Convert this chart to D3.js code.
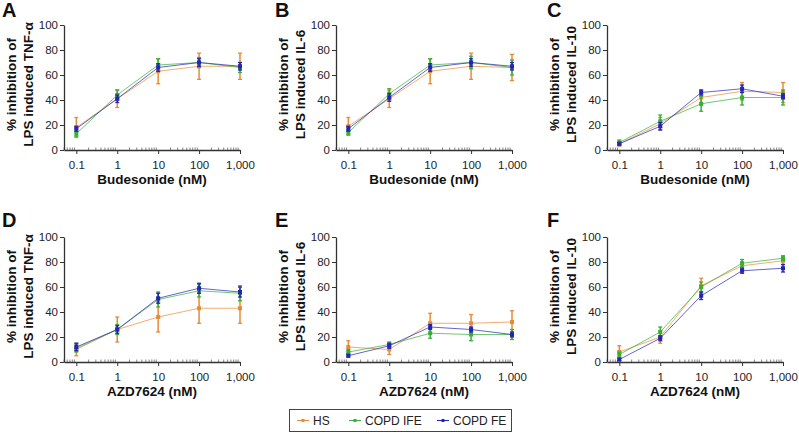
<!DOCTYPE html>
<html>
<head>
<meta charset="utf-8">
<script src="https://cdn.jsdelivr.net/npm/d3@7"></script>
<style>
  body { margin: 0; background: #fff; }
  svg { font-family: "Liberation Sans", Arial, sans-serif; }
  .axis path, .axis line { stroke: #333; }
  .axis text { font-size: 11.5px; fill: #222; font-family: "Liberation Sans", Arial, sans-serif; }
</style>
</head>
<body>
<script>
const width = 799;
const height = 433;

// doses and tick labels
const doses = [0.1, 1, 10, 100, 1000];
const doseLabels = ["0.1", "1", "10", "100", "1,000"];
const yTicks = [0, 20, 40, 60, 80, 100];

const seriesNames = ["HS", "COPD IFE", "COPD FE"];
const seriesColors = ["#e88a35", "#34b035", "#2424b8"];

// A: budesonide, TNF-a
const aHS = [18, 41, 63, 67, 67];
const aHSerr = [8, 7, 10, 10.5, 10.5];
const aIFE = [13, 44, 68, 70, 66];
const aIFEerr = [2, 4, 5, 4, 4];
const aFE = [17, 41, 66, 70, 67];
const aFEerr = [2, 3, 3, 3, 3];

// B: budesonide, IL-6
const bHS = [19, 41, 63, 67, 66];
const bHSerr = [7, 7, 10, 10.5, 10.5];
const bIFE = [14, 45, 68, 70, 66];
const bIFEerr = [2, 4, 5, 5, 6];
const bFE = [17, 42, 66, 70, 67];
const bFEerr = [2, 3, 3, 3, 3];

// C: budesonide, IL-10
const cHS = [5, 21, 42, 47, 46];
const cHSerr = [2, 5, 6, 7, 8];
const cIFE = [6, 23, 37, 42, 42];
const cIFEerr = [2, 5, 6, 6, 6];
const cFE = [5, 19, 46, 49, 43];
const cFEerr = [1, 3, 2, 3, 2];

// D: AZD7624, TNF-a
const dHS = [10, 26, 36, 43, 43];
const dHSerr = [5, 10, 12, 12, 12];
const dIFE = [11, 26, 50, 57, 55];
const dIFEerr = [3, 4, 6, 5, 6];
const dFE = [12, 26, 51, 59, 56];
const dFEerr = [3, 3, 4, 4, 4];

// E: AZD7624, IL-6
const eHS = [12, 10, 31, 31, 32];
const eHSerr = [5, 4, 8, 7, 9];
const eIFE = [8, 14, 23, 22, 22];
const eIFEerr = [2, 2, 4, 5, 4];
const eFE = [5, 13, 28, 26, 22];
const eFEerr = [1, 2, 2, 2, 2];

// F: AZD7624, IL-10
const fHS = [8, 20, 61, 77, 81];
const fHSerr = [5, 5, 6, 3, 3];
const fIFE = [6, 24, 60, 79, 83];
const fIFEerr = [2, 4, 4, 3, 2];
const fFE = [2, 19, 53, 73, 75];
const fFEerr = [1, 2, 3, 2, 3];

const panels = [
  { letter: "A", col: 0, row: 0, cyto: "TNF-α", drug: "Budesonide", vals: [aHS, aIFE, aFE], errs: [aHSerr, aIFEerr, aFEerr] },
  { letter: "B", col: 1, row: 0, cyto: "IL-6", drug: "Budesonide", vals: [bHS, bIFE, bFE], errs: [bHSerr, bIFEerr, bFEerr] },
  { letter: "C", col: 2, row: 0, cyto: "IL-10", drug: "Budesonide", vals: [cHS, cIFE, cFE], errs: [cHSerr, cIFEerr, cFEerr] },
  { letter: "D", col: 0, row: 1, cyto: "TNF-α", drug: "AZD7624", vals: [dHS, dIFE, dFE], errs: [dHSerr, dIFEerr, dFEerr] },
  { letter: "E", col: 1, row: 1, cyto: "IL-6", drug: "AZD7624", vals: [eHS, eIFE, eFE], errs: [eHSerr, eIFEerr, eFEerr] },
  { letter: "F", col: 2, row: 1, cyto: "IL-10", drug: "AZD7624", vals: [fHS, fIFE, fFE], errs: [fHSerr, fIFEerr, fFEerr] }
];

const colX = [64, 336, 607];
const rowTop = [25, 237];
const plotH = 125;
const plotW = 176;
const letterPos = [[2, 2], [275, 0], [547, 0]];

const svg = d3.select('body').append('svg')
  .attr('width', width).attr('height', height)
  .attr('viewBox', `0 0 ${width} ${height}`);

panels.forEach(p => {
  const x0 = colX[p.col];
  const y0 = rowTop[p.row];

  const xScale = d3.scaleLog()
    .domain([0.05, 1000])
    .range([x0, x0 + plotW]);
  const yScale = d3.scaleLinear()
    .domain([0, 100])
    .range([y0 + plotH, y0]);

  const g = svg.append('g').attr('class', 'panel');

  // minor log ticks (inside)
  const minor = xScale.ticks().filter(t => !doses.includes(t));
  g.append('g')
    .selectAll('line')
    .data(minor)
    .enter()
    .append('line')
    .attr('x1', d => xScale(d)).attr('x2', d => xScale(d))
    .attr('y1', y0 + plotH).attr('y2', y0 + plotH - 2.5)
    .attr('stroke', '#555').attr('stroke-width', 0.7);

  // x axis
  const xAxis = d3.axisBottom(xScale)
    .tickValues(doses)
    .tickSizeInner(4).tickSizeOuter(0)
    .tickFormat((d, i) => doseLabels[i]);
  g.append('g').attr('class', 'axis')
    .attr('transform', `translate(0,${y0 + plotH})`)
    .call(xAxis)
    .call(s => s.select('.domain').attr('stroke-width', 1.3))
    .selectAll('text').attr('dy', '1.0em');

  // y axis
  const yAxis = d3.axisLeft(yScale)
    .tickValues(yTicks)
    .tickSizeInner(4).tickSizeOuter(0);
  g.append('g').attr('class', 'axis')
    .attr('transform', `translate(${x0},0)`)
    .call(yAxis)
    .call(s => s.select('.domain').attr('stroke-width', 1.3))
    .selectAll('text').attr('x', -6);

  // series
  p.vals.forEach((vals, si) => {
    const color = seriesColors[si];
    const pts = doses.map((d, i) => ({ d: d, v: vals[i], e: p.errs[si][i] }));
    const sg = g.append('g').attr('class', 'series');

    const lineGen = d3.line()
      .x(d => xScale(d.d))
      .y(d => yScale(d.v));
    sg.append('path')
      .attr('d', lineGen(pts))
      .attr('fill', 'none')
      .attr('stroke', color)
      .attr('stroke-opacity', 0.7)
      .attr('stroke-width', 1);

    // error bars
    const eb = sg.selectAll('g.eb').data(pts).enter().append('g').attr('class', 'eb');
    eb.append('line')
      .attr('x1', d => xScale(d.d)).attr('x2', d => xScale(d.d))
      .attr('y1', d => yScale(d.v - d.e)).attr('y2', d => yScale(d.v + d.e))
      .attr('stroke', color).attr('stroke-width', 1.5);
    eb.append('line')
      .attr('x1', d => xScale(d.d) - 2).attr('x2', d => xScale(d.d) + 2)
      .attr('y1', d => yScale(d.v + d.e)).attr('y2', d => yScale(d.v + d.e))
      .attr('stroke', color).attr('stroke-width', 1.3);
    eb.append('line')
      .attr('x1', d => xScale(d.d) - 2).attr('x2', d => xScale(d.d) + 2)
      .attr('y1', d => yScale(d.v - d.e)).attr('y2', d => yScale(d.v - d.e))
      .attr('stroke', color).attr('stroke-width', 1.3);

    // markers
    sg.selectAll('rect.mk').data(pts).enter().append('rect')
      .attr('class', 'mk')
      .attr('x', d => xScale(d.d) - 2).attr('y', d => yScale(d.v) - 2)
      .attr('width', 4).attr('height', 4)
      .attr('fill', color);
  });

  // panel letter
  const lp = letterPos[p.col];
  g.append('text')
    .attr('x', lp[0])
    .attr('y', p.row === 0 ? 17 : 227)
    .attr('font-size', 20).attr('font-weight', 'bold')
    .attr('fill', '#111')
    .text(p.letter);

  // y label (two lines)
  const cy = y0 + plotH / 2 - 3;
  [["% inhibition of", x0 - 48], ["LPS induced " + p.cyto, x0 - 31]].forEach(([t, bx]) => {
    g.append('text')
      .attr('transform', `translate(${bx},${cy}) rotate(-90)`)
      .attr('text-anchor', 'middle')
      .attr('font-size', 13.5).attr('font-weight', 'bold')
      .attr('fill', '#111')
      .text(t);
  });

  // x label
  g.append('text')
    .attr('x', x0 + plotW / 2)
    .attr('y', y0 + plotH + 34)
    .attr('text-anchor', 'middle')
    .attr('font-size', 13.5).attr('font-weight', 'bold')
    .attr('fill', '#111')
    .text(p.drug + " (nM)");
});

// legend
const legend = svg.append('g').attr('class', 'legend');
legend.append('rect')
  .attr('x', 289.5).attr('y', 409.5)
  .attr('width', 222).attr('height', 22)
  .attr('fill', '#fff').attr('stroke', '#444').attr('stroke-width', 1);
const legX = [297, 349, 437];
seriesNames.forEach((name, i) => {
  const lx = legX[i];
  legend.append('line')
    .attr('x1', lx).attr('x2', lx + 12)
    .attr('y1', 420.5).attr('y2', 420.5)
    .attr('stroke', seriesColors[i]).attr('stroke-width', 1);
  legend.append('rect')
    .attr('x', lx + 4.5).attr('y', 419).attr('width', 3).attr('height', 3)
    .attr('fill', seriesColors[i]);
  legend.append('text')
    .attr('x', lx + 16).attr('y', 425)
    .attr('font-size', 12).attr('fill', '#222')
    .text(name);
});
</script>
</body>
</html>
